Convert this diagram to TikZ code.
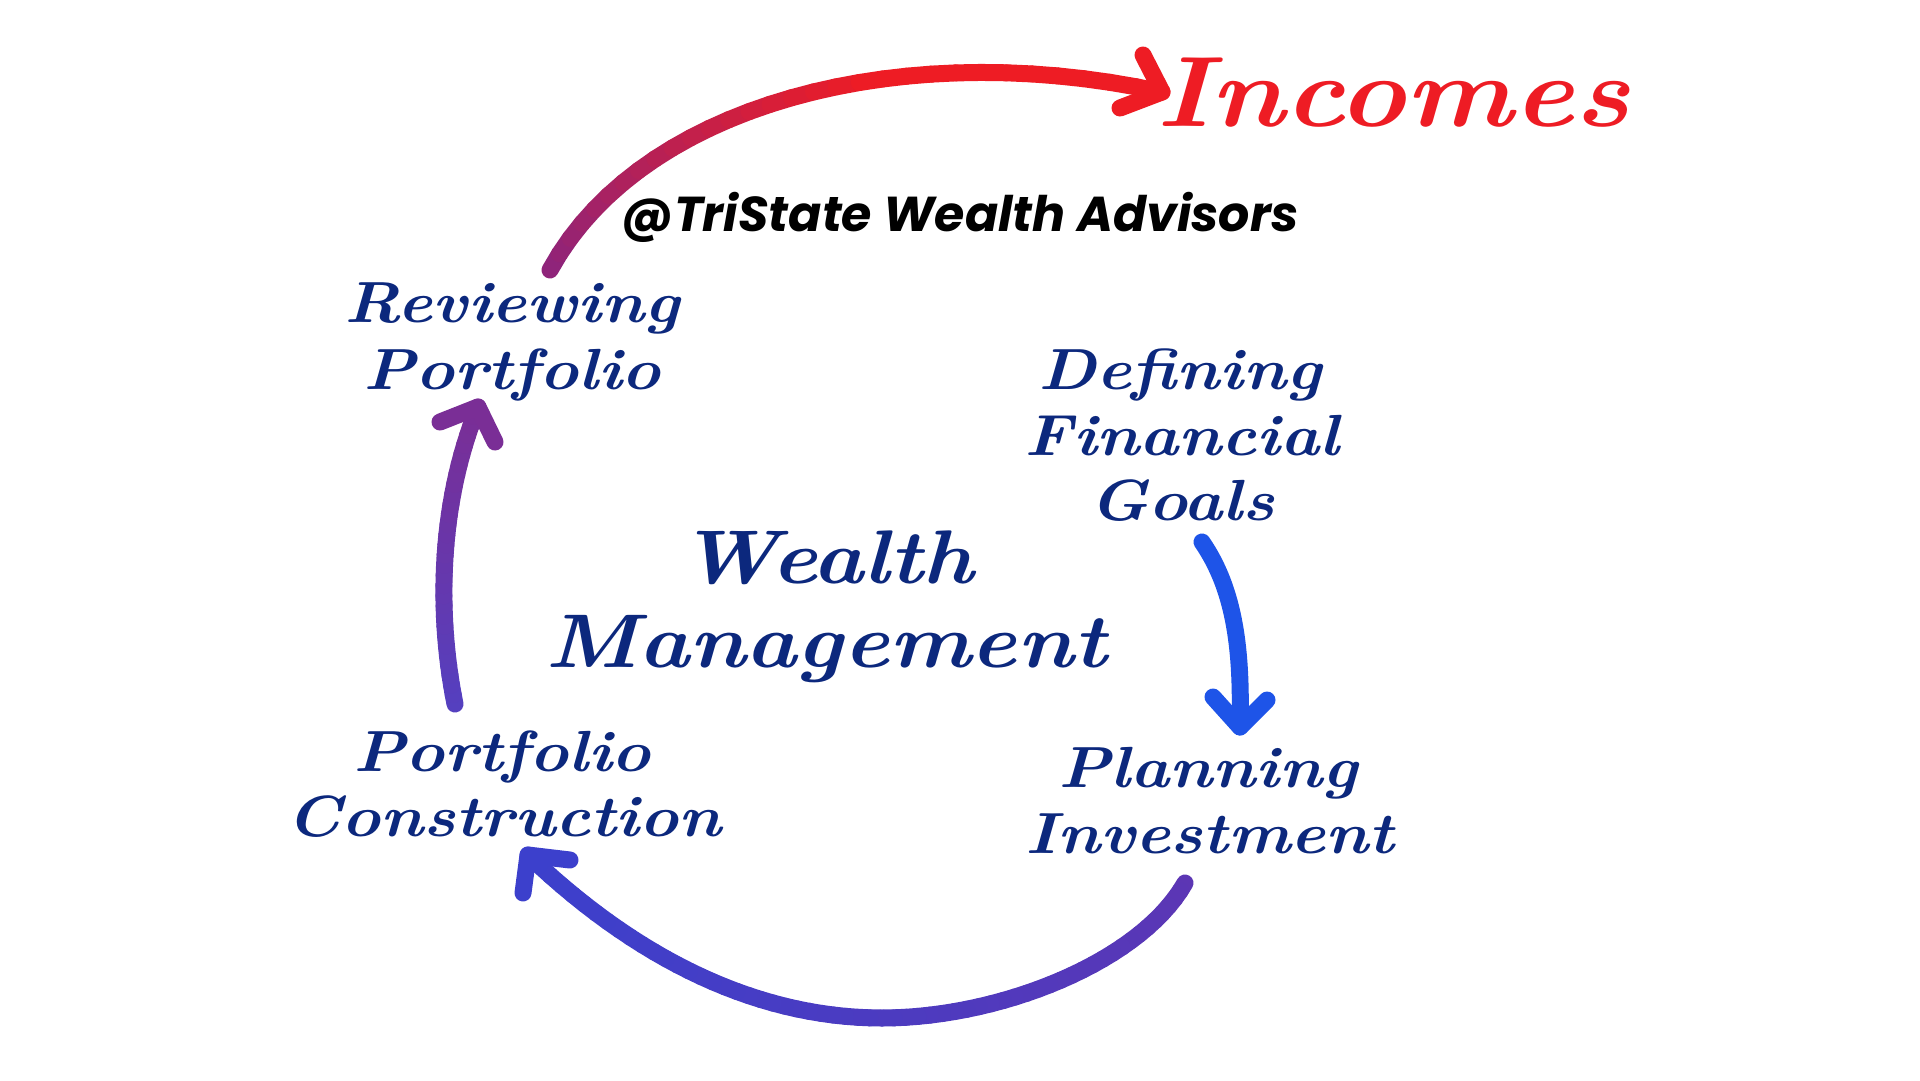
\documentclass[tikz,border=0pt]{standalone}
\usepackage{fontspec}
\usetikzlibrary{calc}
\newfontfamily\handfont{lmroman10-bolditalic.otf}[FakeStretch=1.14]
\newfontfamily\popfont{Poppins}
\definecolor{navy}{RGB}{12,40,125}
\definecolor{redc}{RGB}{238,28,36}
\definecolor{magc}{RGB}{140,36,124}
\definecolor{purtop}{RGB}{122,46,150}
\definecolor{purbot}{RGB}{84,64,192}
\definecolor{bluec}{RGB}{30,84,232}
\definecolor{botL}{RGB}{60,64,204}
\definecolor{botR}{RGB}{92,54,180}
\colorlet{botM}{botL!50!botR}
\tikzset{
  flow/.style={line width=17pt, line cap=round, line join=round},
  label/.style={inner sep=0pt, anchor=base, text=navy},
}
\newcommand\bezpoint[6]{%
  \path ($(#1)!#5!(#2)$) coordinate (bzA) ($(#2)!#5!(#3)$) coordinate (bzB) ($(#3)!#5!(#4)$) coordinate (bzC);
  \path ($(bzA)!#5!(bzB)$) coordinate (bzD) ($(bzB)!#5!(bzC)$) coordinate (bzE);
  \path ($(bzD)!#5!(bzE)$) coordinate (#6);
}
% #1-#4 control points, #5 start colour, #6 end colour, #7 gradient speed
\newcommand\gradcurve[7]{%
  \coordinate (gcPrev) at (#1);
  \foreach \gi in {1,...,30}{
    \pgfmathsetmacro\gct{\gi/30}
    \pgfmathsetmacro\gcp{min(100,#7*100*(\gi-0.5)/30)}
    \bezpoint{#1}{#2}{#3}{#4}{\gct}{gcCur}
    \colorlet{gccol}{#6!\gcp!#5}
    \draw[flow, draw=gccol] (gcPrev) -- (gcCur);
    \coordinate (gcPrev) at (gcCur);
  }
}
\begin{document}
\begin{tikzpicture}[x=1pt, y=-1pt]
\useasboundingbox[fill=white] (0,0) rectangle (1920,1080);

% texts
\node[label, text=redc, font=\handfont\fontsize{100}{100}\selectfont] (incomes) at (1393,126) {Incomes};
\node[inner sep=0pt, anchor=base, text=black, font=\popfont\bfseries\itshape\fontsize{49}{49}\selectfont] (brand) at (960,231) {@TriState Wealth Advisors};

\node[label, font=\handfont\fontsize{58}{58}\selectfont] (rev1) at (512,322) {Reviewing};
\node[label, font=\handfont\fontsize{58}{58}\selectfont] (rev2) at (512,389) {Portfolio};

\node[label, font=\handfont\fontsize{58}{58}\selectfont] (def1) at (1180,389) {Defining};
\node[label, font=\handfont\fontsize{58}{58}\selectfont] (def2) at (1182,455) {Financial};
\node[label, font=\handfont\fontsize{58}{58}\selectfont] (def3) at (1182,520) {Goals};

\node[label, font=\handfont\fontsize{76}{76}\selectfont] (wm1) at (826,583) {Wealth};
\node[label, font=\handfont\fontsize{76}{76}\selectfont] (wm2) at (826,667) {Management};

\node[label, font=\handfont\fontsize{58}{58}\selectfont] (pc1) at (502,771) {Portfolio};
\node[label, font=\handfont\fontsize{58}{58}\selectfont] (pc2) at (504,836) {Construction};

\node[label, font=\handfont\fontsize{58}{58}\selectfont] (pl1) at (1208,787) {Planning};
\node[label, font=\handfont\fontsize{58}{58}\selectfont] (pl2) at (1210,853) {Investment};

% top arc to Incomes
\coordinate (tA0) at (550,270);
\coordinate (tA1) at (640,105);
\coordinate (tA2) at (900,35);
\coordinate (tTip) at (1162,92);
\coordinate (tArm1) at (1143,55);
\coordinate (tArm2) at (1120,108);
\gradcurve{tA0}{tA1}{tA2}{tTip}{magc}{redc}{1.6}
\draw[flow, draw=redc] (tArm1) -- (tTip) -- (tArm2);

% left upward arrow
\coordinate (lA0) at (455,704);
\coordinate (lA1) at (436,610);
\coordinate (lA2) at (440,500);
\coordinate (lTip) at (478,407);
\coordinate (lArm1) at (440,422);
\coordinate (lArm2) at (495,442);
\gradcurve{lA0}{lA1}{lA2}{lTip}{purbot}{purtop}{1}
\draw[flow, draw=purtop] (lArm1) -- (lTip) -- (lArm2);

% right downward arrow
\coordinate (rA0) at (1202,542);
\coordinate (rA1) at (1235,590);
\coordinate (rA2) at (1242,650);
\coordinate (rTip) at (1240,727);
\coordinate (rArm1) at (1213,697);
\coordinate (rArm2) at (1267,700);
\draw[flow, draw=bluec] (rA0) .. controls (rA1) and (rA2) .. (rTip);
\draw[flow, draw=bluec] (rArm1) -- (rTip) -- (rArm2);

% bottom arc
\coordinate (bA0) at (1185,883);
\coordinate (bA1) at (1140,962);
\coordinate (bA2) at (1000,1018);
\coordinate (bMid) at (882,1018);
\coordinate (bB1) at (760,1018);
\coordinate (bB2) at (640,962);
\coordinate (bTip) at (528,855);
\coordinate (bArm1) at (570,860);
\coordinate (bArm2) at (523,893);
\gradcurve{bA0}{bA1}{bA2}{bMid}{botR}{botM}{1}
\gradcurve{bMid}{bB1}{bB2}{bTip}{botM}{botL}{1}
\draw[flow, draw=botL] (bArm1) -- (bTip) -- (bArm2);
\end{tikzpicture}
\end{document}
